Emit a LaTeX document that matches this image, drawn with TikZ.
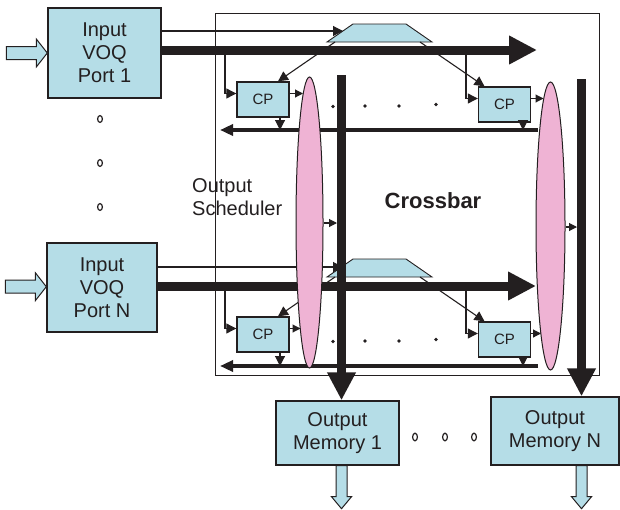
\documentclass[tikz,border=0pt]{standalone}
\usepackage{fontspec}
\setmainfont{Liberation Sans}
\usetikzlibrary{arrows.meta,shapes.geometric,calc}

\definecolor{ink}{HTML}{231F20}
\definecolor{boxblue}{HTML}{B5DDE7}
\definecolor{ovalpink}{HTML}{EFB3D4}

\tikzset{
  box/.style={draw=ink, line width=1.4pt, fill=boxblue, inner sep=0pt, align=center,
              text=ink, font=\fontsize{20}{23}\selectfont},
  cpbox/.style={box, minimum width=52, minimum height=35, font=\fontsize{15}{17}\selectfont},
  oval/.style={ellipse, draw=ink, line width=1pt, fill=ovalpink, inner sep=0pt},
  frame/.style={draw=ink, line width=1pt},
  thin/.style={draw=ink, line width=1.1pt},
  thinarrow/.style={thin, -{Triangle[length=10pt,width=10pt]}},
  tinyarrow/.style={thin, -{Triangle[length=8pt,width=8pt]}},
  busarrow/.style={draw=ink, line width=9pt, -{Triangle[length=28pt,width=27pt]}},
  returnarrow/.style={draw=ink, line width=4pt, -{Triangle[length=13pt,width=11pt]}},
  trap/.style={draw=ink, line width=0.9pt, fill=boxblue},
  hollow/.style={draw=ink, line width=1pt, fill=boxblue},
  ringdot/.style={draw=ink, line width=1.2pt},
  pics/feedright/.style={code={
    \draw[hollow] (0,-6.5) -- (30,-6.5) -- (30,-14) -- (41,0) -- (30,14) -- (30,6.5) -- (0,6.5) -- cycle;}},
  pics/feeddown/.style={code={
    \draw[hollow] (-5.5,0) -- (-5.5,31) -- (-10,31) -- (0,43) -- (10,31) -- (5.5,31) -- (5.5,0) -- cycle;}}
}

\begin{document}
\begin{tikzpicture}[x=1pt,y=-1pt]
\useasboundingbox (0,0) rectangle (620,509);

% crossbar frame
\draw[frame] (215,13) rectangle (599,375);

% input and output blocks
\node[box, minimum width=113, minimum height=90] (in1) at (104.5,53) {Input\\VOQ\\Port 1};
\node[box, minimum width=110, minimum height=89] (inN) at (102,287.5) {Input\\VOQ\\Port N};

% per-row crosspoint buffers
\node[cpbox] (cp1) at (263,99.5) {CP};
\node[cpbox] (cp2) at (504.5,104.5) {CP};
\node[cpbox] (cp1N) at (263,334.5) {CP};
\node[cpbox] (cp2N) at (504.5,339.5) {CP};

% points along the buses
\coordinate (bus1end) at (537,50);
\coordinate (busNend) at (536,286);
\coordinate (tap1) at (225,50);
\coordinate (tap2) at (466,50);
\coordinate (tap1N) at (225,286);
\coordinate (tap2N) at (466,286);
\coordinate (ret1a) at (538,130);
\coordinate (ret1b) at (220,130);
\coordinate (retNa) at (538,366);
\coordinate (retNb) at (220,366);

% decoders on each bus
\draw[trap] (327,42) coordinate (tz1bl) -- (353,24) -- (406,24) -- (432,42) coordinate (tz1br) -- cycle;
\draw[trap] (327,277) coordinate (tzNbl) -- (353,259) -- (406,259) -- (432,277) coordinate (tzNbr) -- cycle;
\coordinate (tz1in) at (343,31);
\coordinate (tzNin) at (343,267);
\coordinate (tz1l) at (335,42);
\coordinate (tz1r) at (420,42);
\coordinate (tzNl) at (335,277);
\coordinate (tzNr) at (420,277);

% control lines into the decoders
\draw[thinarrow] (in1.east |- tz1in) -- (tz1in);
\draw[thinarrow] (inN.east |- tzNin) -- (tzNin);

% decoder outputs to the crosspoints
\draw[thinarrow] (tz1l) -- ([xshift=15pt]cp1.north);
\draw[thinarrow] (tz1r) -- ([xshift=-20pt]cp2.north);
\draw[thinarrow] (tzNl) -- ([xshift=15pt]cp1N.north);
\draw[thinarrow] (tzNr) -- ([xshift=-20pt]cp2N.north);

% data buses
\draw[busarrow] (in1.east |- bus1end) -- (bus1end);
\draw[busarrow] (inN.east |- busNend) -- (busNend);

% taps from the buses into the crosspoints
\draw[thinarrow] (tap1) |- ([yshift=6pt]cp1.west);
\draw[thinarrow] (tap2) |- ([yshift=6pt]cp2.west);
\draw[thinarrow] (tap1N) |- ([yshift=6pt]cp1N.west);
\draw[thinarrow] (tap2N) |- ([yshift=6pt]cp2N.west);

% crosspoints feeding the return lines
\coordinate (c1d) at (280,130);
\coordinate (c2d) at (523,130);
\coordinate (c1Nd) at (280,366);
\coordinate (c2Nd) at (523,366);
\draw[thinarrow] (c1d |- cp1.south) -- (c1d);
\draw[thinarrow] (c2d |- cp2.south) -- (c2d);
\draw[thinarrow] (c1Nd |- cp1N.south) -- (c1Nd);
\draw[thinarrow] (c2Nd |- cp2N.south) -- (c2Nd);

% return lines
\draw[returnarrow] (ret1a) -- (ret1b);
\draw[returnarrow] (retNa) -- (retNb);

% output schedulers
\node[oval, minimum width=27, minimum height=291] (lov) at (309.5,222.5) {};
\node[oval, minimum width=29, minimum height=288] (rov) at (550.5,226) {};

% crosspoints into the schedulers
\coordinate (e1) at (303,93.5);
\coordinate (e2) at (543.5,98.5);
\coordinate (e1N) at (300.5,328.5);
\coordinate (e2N) at (541,333.5);
\draw[tinyarrow] ([yshift=6pt]cp1.east) -- (e1);
\draw[tinyarrow] ([yshift=6pt]cp2.east) -- (e2);
\draw[tinyarrow] ([yshift=6pt]cp1N.east) -- (e1N);
\draw[tinyarrow] ([yshift=6pt]cp2N.east) -- (e2N);

% output memories
\node[box, minimum width=123, minimum height=64] (om1) at (337.5,433) {Output\\Memory 1};
\node[box, minimum width=128, minimum height=68] (omN) at (555,431) {Output\\Memory N};

% column buses
\coordinate (col1) at (341.5,75);
\coordinate (colN) at (581.5,79);
\draw[busarrow] (col1) -- (col1 |- om1.north);
\draw[busarrow] (colN) -- (colN |- omN.north);

% schedulers into the column buses
\coordinate (s1) at (337,223);
\coordinate (sN) at (577,227);
\draw[tinyarrow] (lov.east |- s1) -- (s1);
\draw[tinyarrow] (rov.east |- sN) -- (sN);

% external inputs and outputs
\pic at ($(in1.west)+(-41,0)$) {feedright};
\pic at ($(inN.west)+(-41,-0.8)$) {feedright};
\pic at (col1 |- om1.south) {feeddown};
\pic at (colN |- omN.south) {feeddown};

% labels
\node[anchor=west, align=left, inner sep=0pt, text=ink, font=\fontsize{20}{23}\selectfont] (sched) at (192,197) {Output\\Scheduler};
\node[inner sep=0pt, text=ink, font=\bfseries\fontsize{22}{26}\selectfont] (xbar) at (433,201) {Crossbar};

% ellipsis marks
\foreach \yy in {119,163,207}
  \draw[ringdot] (100,\yy) ellipse [x radius=2.4, y radius=3.4];
\foreach \xx in {415,445,474}
  \draw[ringdot] (\xx,437) ellipse [x radius=2.4, y radius=3.8];
\foreach \xx/\yy in {333/106.5,365/106,399/106,436/104.5}{
  \fill[ink] (\xx,\yy) circle (1.9);
  \fill[ink] (\xx,\yy+235) circle (1.9);
}
\end{tikzpicture}
\end{document}
